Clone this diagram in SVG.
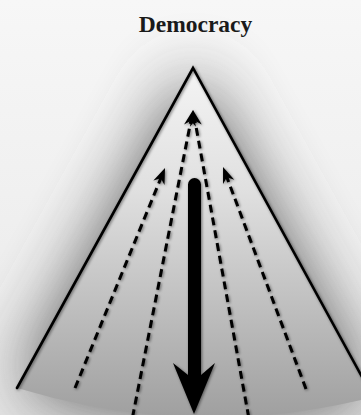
<svg xmlns="http://www.w3.org/2000/svg" width="361" height="415" viewBox="0 0 361 415">
  <style>
    .title { font-family: "Liberation Serif", "Times New Roman", serif; font-weight: bold; font-size: 23.5px; fill: #1a1a1a; }
    .edge { fill: none; stroke: #000; stroke-width: 2.6; stroke-linecap: round; }
    .dash { fill: none; stroke: #000; stroke-width: 3; stroke-dasharray: 8 5; }
  </style>
  <defs>
    <linearGradient id="bg" x1="0" y1="0" x2="0" y2="1">
      <stop offset="0" stop-color="#f7f7f7"/>
      <stop offset="1" stop-color="#e8e8e8"/>
    </linearGradient>
    <linearGradient id="coneFill" gradientUnits="userSpaceOnUse" x1="0" y1="68" x2="0" y2="415">
      <stop offset="0" stop-color="#f4f4f4"/>
      <stop offset="0.35" stop-color="#e0e0e0"/>
      <stop offset="1" stop-color="#a0a0a0"/>
    </linearGradient>
    <filter id="halo" x="-60%" y="-60%" width="220%" height="220%">
      <feGaussianBlur stdDeviation="34"/>
    </filter>
    <filter id="soft" x="-20%" y="-20%" width="140%" height="140%">
      <feGaussianBlur in="SourceAlpha" stdDeviation="1.6" result="b"/>
      <feOffset dx="1" dy="1" in="b" result="o"/>
      <feComponentTransfer in="o" result="s"><feFuncA type="linear" slope="0.5"/></feComponentTransfer>
      <feMerge><feMergeNode in="s"/><feMergeNode in="SourceGraphic"/></feMerge>
    </filter>
    <marker id="head" viewBox="-17 -7 18 14" markerWidth="18" markerHeight="14" refX="-9" refY="0" orient="auto" markerUnits="userSpaceOnUse">
      <path d="M0,0 L-16,-6 L-11,0 L-16,6 Z" fill="#000"/>
    </marker>
  </defs>

  <rect x="0" y="0" width="361" height="415" fill="url(#bg)"/>

  <g id="cone">
    <path d="M17,388 L193,68 L373,397 Q196,442 17,388 Z" fill="#555" opacity="0.95" filter="url(#halo)"/>
    <path d="M17,388 L193,68 L373,397 Q196,442 17,388 Z" fill="url(#coneFill)"/>
    <path class="edge" d="M17,388 L193,68 L373,397" filter="url(#soft)"/>
  </g>

  <g id="title">
    <text class="title" x="195.5" y="32" text-anchor="middle">Democracy</text>
  </g>

  <g id="connectors" filter="url(#soft)">
    <path class="dash" d="M75,388 L161.6,176.3" marker-end="url(#head)"/>
    <path class="dash" d="M306,389 L226.2,175.4" marker-end="url(#head)"/>
    <path class="dash" d="M130,430 L191.3,118.8" marker-end="url(#head)"/>
    <path class="dash" d="M251,430 L194.6,118.8" marker-end="url(#head)"/>
    <path id="mainArrow" d="M188,184.5 A6.5,6.5 0 0 1 201,184.5 L201,375 L215,363 L194,414 L173,363 L188,375 Z" fill="#000"/>
  </g>
</svg>
